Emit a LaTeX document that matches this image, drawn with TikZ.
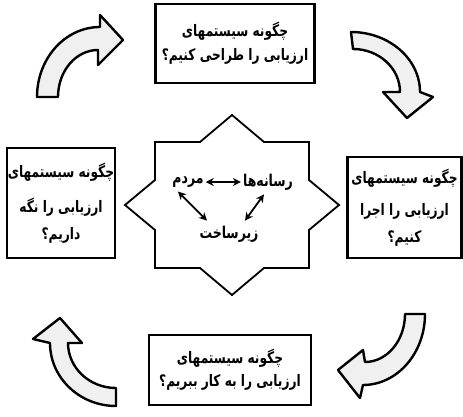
\documentclass[tikz,border=0pt]{standalone}
\usepackage{fontspec}
\newfontfamily\arabicfont[Script=Arabic]{DejaVu Sans}
\TeXXeTstate=1
\usetikzlibrary{arrows.meta}
\newcommand\rtl[1]{\scalebox{1}[1.3]{\beginR #1\endR}}
\begin{document}
\begin{tikzpicture}[x=1pt,y=-1pt,
  qbox/.style={draw, line width=2.2pt, inner sep=0pt, align=center,
    font=\arabicfont\bfseries\fontsize{12.2}{14}\selectfont},
  stxt/.style={inner sep=2pt, font=\arabicfont\bfseries\fontsize{12.5}{14}\selectfont},
  dbl/.style={{Stealth[length=8pt,width=8pt]}-{Stealth[length=8pt,width=8pt]}, line width=1.8pt},
  carrow/.style={draw, line width=2.4pt, fill=gray!12, line join=round},
  starline/.style={draw, line width=1.8pt, line join=miter}]
\useasboundingbox (0,0) rectangle (463,417);
\fill[white] (0,0) rectangle (463,417);

% curved arrows
\draw[carrow] (37,97) .. controls (37,58.4) and (65.2,27) .. (100,27) -- (100,15) -- (123,40) -- (98,65) -- (98,50)
  .. controls (75.9,50) and (58,71) .. (58,97) -- cycle;
\draw[carrow] (351,32) .. controls (389,32) and (420,58.9) .. (420,92) -- (433,97) -- (407,118) -- (383,92) -- (400,92)
  .. controls (400,68.3) and (379,49) .. (353,49) -- cycle;
\draw[carrow] (425,314) .. controls (425,353.2) and (397.2,385) .. (363,385) -- (360,398) -- (338,370) -- (363,350) -- (365,362)
  .. controls (387.1,362) and (405,340.5) .. (405,314) -- cycle;
\draw[carrow] (116,406) .. controls (79.6,406) and (50,377.8) .. (50,343) -- (33,339) -- (60,318) -- (82,343) -- (68,343)
  .. controls (68,367.8) and (89.5,388) .. (116,388) -- cycle;

% star
\coordinate (starc) at (232,205);
\draw[starline] (232,115) -- (264,142) -- (309,142) -- (309,180) -- (339,205) -- (309,230) -- (309,268) -- (264,268)
  -- (232,295) -- (200,268) -- (155,268) -- (155,230) -- (125,205) -- (155,180) -- (155,142) -- (200,142) -- cycle;

% boxes
\node[qbox, minimum width=159pt, minimum height=79pt] (design) at (235,43.5)
  {\rtl{چگونه سیستمهای}\\[7pt]\rtl{ارزیابی را طراحی کنیم؟}};
\node[qbox, minimum width=114pt, minimum height=101pt] (run) at (404.5,207.5)
  {\rtl{چگونه سیستمهای}\\[15pt]\rtl{ارزیابی را اجرا}\\[10pt]\rtl{کنیم؟}};
\node[qbox, minimum width=162pt, minimum height=70pt] (use) at (230,370)
  {\rtl{چگونه سیستمهای}\\[6pt]\rtl{ارزیابی را به کار ببریم؟}};
\node[qbox, minimum width=108pt, minimum height=110pt] (keep) at (61,203)
  {\rtl{چگونه سیستمهای}\\[16pt]\rtl{ارزیابی را نگه}\\[10pt]\rtl{داریم؟}};

% star content
\node[stxt] (people) at (188,182) {\rtl{مردم}};
\node[stxt] (media) at (268,182) {\rtl{رسانه‌ها}};
\node[stxt] (infra) at (229,234) {\rtl{زیرساخت}};
\draw[dbl] (people) -- (media);
\draw[dbl] ([shift={(-10,2)}]people.south) -- ([shift={(-22,-3)}]infra.north);
\draw[dbl] ([shift={(-4,2)}]media.south) -- ([shift={(16,-3)}]infra.north);
\end{tikzpicture}
\end{document}
